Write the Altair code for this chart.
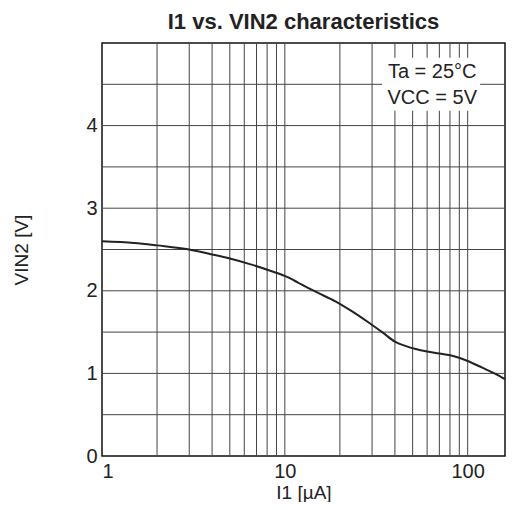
import altair as alt
import pandas as pd

# curve data
I1 = [1, 1.5, 2, 3, 4, 5, 6.5, 8.4, 10, 11.8, 13, 15, 19, 23, 29, 34.5, 40, 46, 52, 60, 70, 85, 100, 120, 140, 160]
VIN2 = [2.60, 2.58, 2.55, 2.50, 2.44, 2.39, 2.32, 2.24, 2.18, 2.10, 2.05, 1.98, 1.87, 1.76, 1.61, 1.49, 1.385, 1.33, 1.295, 1.265, 1.24, 1.205, 1.15, 1.07, 1.00, 0.93]

x_grid = [2, 3, 4, 5, 6, 7, 8, 9, 10, 20, 30, 40, 50, 60, 70, 80, 90, 100]
y_grid = [0.5, 1, 1.5, 2, 2.5, 3, 3.5, 4, 4.5]
x_ticks = [1, 10, 100]
y_ticks = [0, 1, 2, 3, 4]

note_lines = ["Ta = 25°C", "VCC = 5V"]
note_y = [4.65, 4.34]
note_x = 64
note_box = {"x": 34, "x2": 117, "y": 4.18, "y2": 4.82}

FONT = "Liberation Sans"
INK = "#222222"

xs = alt.Scale(type="log", domain=[1, 160])
ys = alt.Scale(domain=[0, 5])

curve_df = pd.DataFrame({"I1": I1, "V": VIN2})
xg_df = pd.DataFrame({"x": x_grid})
yg_df = pd.DataFrame({"y": y_grid})
note_df = pd.DataFrame({"t": note_lines, "y": note_y, "x": [note_x] * len(note_lines)})
box_df = pd.DataFrame([note_box])

x_axis = alt.Axis(values=x_ticks, grid=False, ticks=False, domain=False, labelFont=FONT,
                  labelFontSize=20, labelColor=INK, labelPadding=5, title="I1 [µA]",
                  titleFont=FONT, titleFontSize=19, titleFontWeight="normal", titleColor=INK,
                  titlePadding=2, format="d")
y_axis = alt.Axis(values=y_ticks, grid=False, ticks=False, domain=False, labelFont=FONT,
                  labelFontSize=20, labelColor=INK, labelPadding=5, title="VIN2 [V]",
                  titleFont=FONT, titleFontSize=19, titleFontWeight="normal", titleColor=INK,
                  titlePadding=54, format="d")

base_line = alt.Chart(curve_df).mark_line(color=INK, strokeWidth=2, interpolate="monotone").encode(
    x=alt.X("I1:Q", scale=xs, axis=x_axis),
    y=alt.Y("V:Q", scale=ys, axis=y_axis),
)

vgrid = alt.Chart(xg_df).mark_rule(color="#444444", strokeWidth=1).encode(
    x=alt.X("x:Q", scale=xs)
)
hgrid = alt.Chart(yg_df).mark_rule(color="#444444", strokeWidth=1).encode(
    y=alt.Y("y:Q", scale=ys)
)

box = alt.Chart(box_df).mark_rect(color="white").encode(
    x=alt.X("x:Q", scale=xs), x2="x2:Q",
    y=alt.Y("y:Q", scale=ys), y2="y2:Q",
)
note = alt.Chart(note_df).mark_text(font=FONT, fontSize=20, color=INK, align="center", baseline="middle").encode(
    x=alt.X("x:Q", scale=xs), y=alt.Y("y:Q", scale=ys), text="t:N"
)

chart = alt.layer(vgrid, hgrid, box, note, base_line).properties(
    width=501, height=494,
    autosize=alt.AutoSizeParams(type="fit", contains="padding"),
    title=alt.TitleParams("I1 vs. VIN2 characteristics", font=FONT, fontSize=22, fontWeight="bold",
                          color=INK, offset=9, anchor="middle"),
    padding={"left": 4, "top": 2, "right": 0, "bottom": 0},
).configure_view(stroke="#111111", strokeWidth=1.5)

chart.save("out.html", embed_options={"renderer": "svg", "actions": False})
